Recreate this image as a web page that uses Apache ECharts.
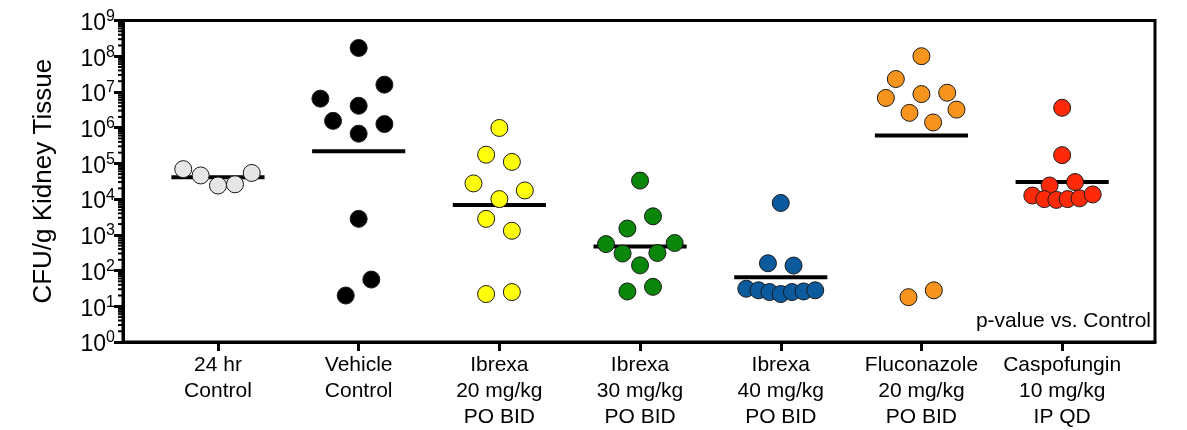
<!DOCTYPE html>
<html>
<head>
<meta charset="utf-8">
<script src="https://cdn.jsdelivr.net/npm/echarts@6/dist/echarts.min.js"></script>
<style>
html,body{margin:0;padding:0;background:#fff;}
#chart{width:1187px;height:430px;}
</style>
</head>
<body>
<div id="chart"></div>
<script>
// ---- data ----
const categories = ['24 hr\nControl', 'Vehicle\nControl', 'Ibrexa\n20 mg/kg\nPO BID', 'Ibrexa\n30 mg/kg\nPO BID', 'Ibrexa\n40 mg/kg\nPO BID', 'Fluconazole\n20 mg/kg\nPO BID', 'Caspofungin\n10 mg/kg\nIP QD'];

const control24hValues = [69000, 46000, 24000, 26000, 54000];
const vehicleValues = [1.7e8, 1.6e7, 6.5e6, 4.1e6, 1.55e6, 1.26e6, 6.8e5, 2800, 56, 20];
const ibrexa20Values = [9.8e5, 1.75e5, 1.1e5, 2.75e4, 1.75e4, 1.0e4, 2800, 1300, 22, 25];
const ibrexa30Values = [33000, 3300, 1500, 550, 590, 300, 310, 140, 26, 35];
const ibrexa40Values = [7800, 160, 138, 31, 28, 25, 22, 25, 26, 28];
const fluconazoleValues = [1.0e8, 2.3e7, 6.8e6, 8.7e6, 9.5e6, 2.6e6, 3.2e6, 1.4e6, 18, 28];
const caspofunginValues = [3.6e6, 1.7e5, 2.4e4, 3.0e4, 1.26e4, 1.0e4, 9500, 1.0e4, 1.05e4, 1.35e4];

// horizontal position of each dot within its column (in category widths)
const control24hSpread = [-0.247, -0.123, 0, 0.121, 0.24];
const vehicleSpread = [0, 0.183, -0.272, 0, -0.182, 0.183, 0, 0, 0.09, -0.092];
const ibrexa20Spread = [0, -0.094, 0.089, -0.184, 0.181, 0, -0.094, 0.089, -0.094, 0.089];
const ibrexa30Spread = [0, 0.092, -0.09, -0.242, 0.246, -0.124, 0.123, 0, -0.09, 0.092];
const ibrexa40Spread = [0, -0.091, 0.091, -0.245, -0.158, -0.08, 0, 0.08, 0.162, 0.245];
const fluconazoleSpread = [0, -0.182, -0.253, 0, 0.183, -0.085, 0.249, 0.083, -0.092, 0.088];
const caspofunginSpread = [0, 0, -0.089, 0.092, -0.212, -0.127, -0.041, 0.039, 0.124, 0.217];

// group centre lines
const centerLineValues = [41000, 2.2e5, 6800, 470, 65, 6.0e5, 3.0e4];

const yTickExponents = [0, 1, 2, 3, 4, 5, 6, 7, 8, 9];
const yAxisTitle = 'CFU/g Kidney Tissue';
const noteText = 'p-value vs. Control';

// ---- styling ----
const FONT = 'Liberation Sans, Arial, Helvetica, sans-serif';
const groupColors = ['#e6e6e6', '#000000', '#ffff0d', '#0a870a', '#0b5a9e', '#f7941d', '#ff2a0a'];
const groups = [
  [control24hValues, control24hSpread],
  [vehicleValues, vehicleSpread],
  [ibrexa20Values, ibrexa20Spread],
  [ibrexa30Values, ibrexa30Spread],
  [ibrexa40Values, ibrexa40Spread],
  [fluconazoleValues, fluconazoleSpread],
  [caspofunginValues, caspofunginSpread]
];

const X_MIN = -0.675, X_MAX = 6.66;
const LINE_HALF = 0.331;

const minorTickValues = [];
for (let d = 0; d < 9; d++) {
  for (let k = 2; k <= 9; k++) minorTickValues.push([X_MIN, k * Math.pow(10, d)]);
}

const series = [];
// centre lines (behind dots)
series.push({
  type: 'custom',
  z: 2,
  silent: true,
  clip: false,
  data: centerLineValues.map((v, i) => [i, v]),
  renderItem: function (params, api) {
    const i = api.value(0), v = api.value(1);
    const a = api.coord([i - LINE_HALF, v]);
    const b = api.coord([i + LINE_HALF, v]);
    return {
      type: 'line',
      shape: { x1: a[0], y1: a[1], x2: b[0], y2: b[1] },
      style: { stroke: '#000', lineWidth: 4 }
    };
  }
});
// minor log ticks
series.push({
  type: 'custom',
  z: 5,
  silent: true,
  clip: false,
  data: minorTickValues,
  renderItem: function (params, api) {
    const p = api.coord([api.value(0), api.value(1)]);
    return {
      type: 'line',
      shape: { x1: p[0] - 5, y1: p[1], x2: p[0], y2: p[1] },
      style: { stroke: '#000', lineWidth: 2 }
    };
  }
});
groups.forEach(function (g, i) {
  series.push({
    type: 'scatter',
    z: 3,
    silent: true,
    symbol: 'circle',
    symbolSize: 17,
    itemStyle: { color: groupColors[i], borderColor: '#1a1a1a', borderWidth: 1, opacity: 1 },
    data: g[0].map((v, j) => [i + g[1][j], v])
  });
});

const chart = echarts.init(document.getElementById('chart'), null, { renderer: 'canvas' });
chart.setOption({
  animation: false,
  backgroundColor: '#fff',
  grid: { left: 123, right: 32, top: 20.5, bottom: 87.5, show: true, borderColor: '#000', borderWidth: 3, backgroundColor: 'transparent' },
  xAxis: {
    type: 'value',
    min: X_MIN,
    max: X_MAX,
    axisLine: { show: true, onZero: false, lineStyle: { color: '#000', width: 3 } },
    axisTick: { show: true, length: 9, lineStyle: { color: '#000', width: 3 }, customValues: categories.map((c, i) => i) },
    axisLabel: {
      show: true,
      customValues: categories.map((c, i) => i),
      formatter: function (v) { return categories[Math.round(v)] || ''; },
      color: '#000',
      fontFamily: FONT,
      fontSize: 21,
      lineHeight: 26,
      margin: 10
    },
    splitLine: { show: false }
  },
  yAxis: {
    type: 'log',
    logBase: 10,
    min: 1,
    max: 1e9,
    splitNumber: 9,
    name: yAxisTitle,
    nameLocation: 'middle',
    nameGap: 66,
    nameTextStyle: { fontFamily: FONT, fontSize: 26, color: '#000' },
    axisLine: { show: true, onZero: false, lineStyle: { color: '#000', width: 3 } },
    axisTick: { show: true, length: 9, lineStyle: { color: '#000', width: 3 }, customValues: yTickExponents.map(e => Math.pow(10, e)) },
    axisLabel: {
      show: true,
      customValues: yTickExponents.map(e => Math.pow(10, e)),
      margin: 8,
      padding: [6, 0, 0, 0],
      formatter: function (v) {
        const e = Math.round(Math.log10(v));
        return '{a|10}{b|' + e + '}';
      },
      rich: {
        a: { fontFamily: FONT, fontSize: 23, lineHeight: 30, color: '#000' },
        b: { fontFamily: FONT, fontSize: 16, lineHeight: 16, verticalAlign: 'top', color: '#000' }
      }
    },
    splitLine: { show: false }
  },
  graphic: [{
    type: 'text',
    right: 36,
    top: 311,
    silent: true,
    style: { text: noteText, font: '21px ' + FONT, fill: '#000' }
  }],
  series: series
});
</script>
</body>
</html>
